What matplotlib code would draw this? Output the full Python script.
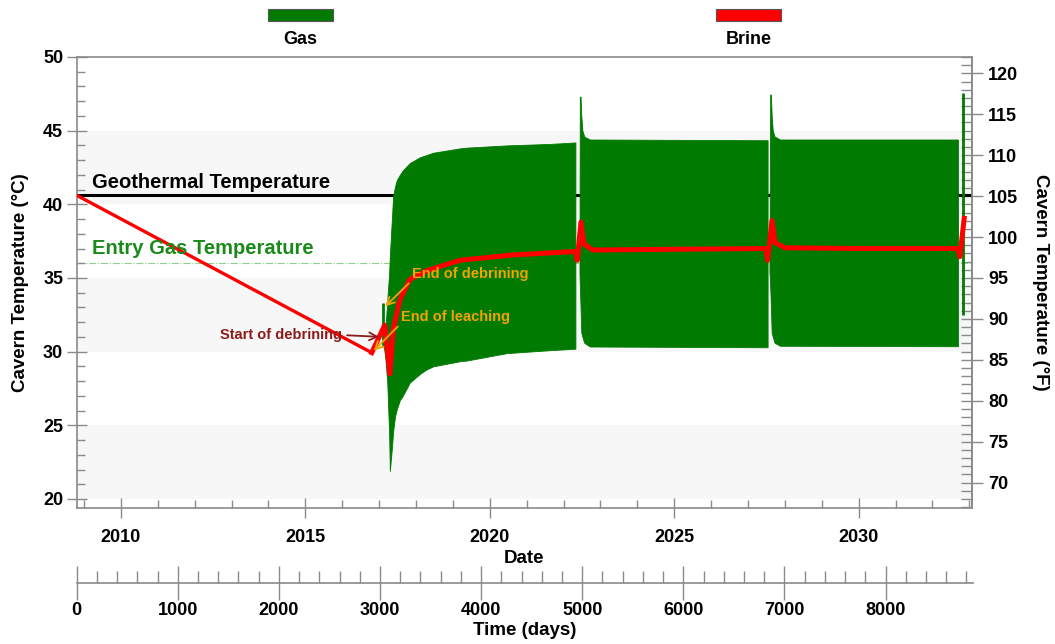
import matplotlib
matplotlib.use('Agg')
import matplotlib.pyplot as plt
from matplotlib.patches import Rectangle
from matplotlib.ticker import MultipleLocator

plt.rcParams['font.family'] = ['Liberation Sans', 'DejaVu Sans']
plt.rcParams['font.weight'] = 'bold'
plt.rcParams['axes.labelweight'] = 'bold'

# --- data (x in decimal years, T in degC) ---
geothermal_temp = 40.6
entry_gas_temp = 36.0

# brine temperature
brine_year = [2008.81, 2016.80, 2017.15, 2017.29, 2017.34, 2017.38, 2017.56, 2017.83,
              2018.29, 2019.19, 2020.54, 2022.32, 2022.37, 2022.47, 2022.55, 2022.80,
              2025.00, 2027.48, 2027.53, 2027.65, 2027.73, 2028.00, 2030.00, 2032.69,
              2032.74, 2032.86]
brine_temp = [40.6, 29.93, 31.8, 28.5, 30.1, 31.5, 33.5, 34.9,
              35.5, 36.2, 36.55, 36.8, 36.2, 38.8, 37.3, 36.9,
              36.95, 37.0, 36.2, 38.9, 37.4, 37.05, 37.0, 37.0,
              36.45, 39.05]

# gas temperature: daily cycling drawn as min/max envelopes per storage period
gas1_year = [2017.13, 2017.17, 2017.22, 2017.27, 2017.29, 2017.34, 2017.38, 2017.43,
             2017.48, 2017.56, 2017.64, 2017.83, 2018.11, 2018.29, 2018.46, 2019.19,
             2019.38, 2020.46, 2021.63, 2022.32]
gas1_max = [30.5, 31.5, 33.5, 35.3, 36.5, 38.8, 40.6, 41.2,
            41.65, 42.0, 42.3, 42.8, 43.2, 43.35, 43.5, 43.8,
            43.85, 44.0, 44.1, 44.2]
gas1_min = [30.3, 29.5, 27.9, 24.5, 21.9, 23.3, 24.6, 25.6,
            26.1, 26.7, 27.0, 27.9, 28.5, 28.8, 29.0, 29.35,
            29.4, 29.9, 30.1, 30.2]

gas2_year = [2022.43, 2022.44, 2022.46, 2022.48, 2022.51, 2022.56, 2022.71, 2027.53]
gas2_max = [35.6, 47.3, 47.3, 46.0, 45.0, 44.6, 44.4, 44.35]
gas2_min = [35.4, 34.5, 33.0, 31.3, 31.0, 30.6, 30.35, 30.3]

gas3_year = [2027.58, 2027.60, 2027.62, 2027.64, 2027.67, 2027.72, 2027.87, 2032.69]
gas3_max = [35.6, 47.45, 47.45, 46.0, 45.0, 44.6, 44.4, 44.4]
gas3_min = [35.4, 34.5, 33.0, 31.3, 31.0, 30.6, 30.4, 30.37]

# short gas spikes
spike_year = [2017.10, 2032.83]
spike_low = [30.3, 32.5]
spike_high = [33.3, 47.55]

# temperature bands shaded in background
bands = [(20, 25), (30, 35), (40, 45)]

legend_names = ['Gas', 'Brine']
legend_colors = ['#007a00', '#ff0000']

gas_color = '#007a00'
brine_color = '#ff0000'
grey = '#8a8a8a'

fig = plt.figure(figsize=(10.55, 6.44), dpi=100)
ax = fig.add_axes([0.0730, 0.2112, 0.8483, 0.7003])
ax.set_xlim(2008.81, 2033.07)
ax.set_ylim(19.39, 50)

for lo, hi in bands:
    ax.axhspan(lo, hi, color='#f7f7f7', lw=0, zorder=0)

ax.axhline(geothermal_temp, color='black', lw=2.2, zorder=1)
ax.axhline(entry_gas_temp, color='#8fd08f', lw=0.8, ls='-.', zorder=1)

for yrs, hi, lo in [(gas1_year, gas1_max, gas1_min),
                    (gas2_year, gas2_max, gas2_min),
                    (gas3_year, gas3_max, gas3_min)]:
    ax.fill_between(yrs, lo, hi, color=gas_color, lw=0.6, zorder=2)
ax.vlines(spike_year, spike_low, spike_high, color=gas_color, lw=2, zorder=2)

# brine: thin during leaching, thicker afterwards
ax.plot(brine_year[:2], brine_temp[:2], color=brine_color, lw=2.4, zorder=3,
        solid_capstyle='round')
ax.plot(brine_year[1:], brine_temp[1:], color=brine_color, lw=3.6, zorder=3,
        solid_joinstyle='round')

ax.text(2009.22, 41.5, 'Geothermal Temperature', color='black', fontsize=14.5,
        va='center', ha='left', zorder=5)
ax.text(2009.22, 36.97, 'Entry Gas Temperature', color='#1a8a1a', fontsize=14.5,
        va='center', ha='left', zorder=5)

dark_red = '#8b1c1c'
orange = '#f2a200'
ax.annotate('Start of debrining', xy=(2017.07, 31.0), xytext=(2015.98, 31.13),
            ha='right', va='center', color=dark_red, fontsize=10.5, zorder=6,
            arrowprops=dict(arrowstyle='->', color=dark_red, lw=1.3, relpos=(1, 0.5),
                            mutation_scale=14))
ax.annotate('End of debrining', xy=(2017.11, 32.94), xytext=(2017.88, 35.3),
            ha='left', va='center', color=orange, fontsize=10.5, zorder=6,
            arrowprops=dict(arrowstyle='->', color=orange, lw=1.3, relpos=(0, 0),
                            mutation_scale=14, shrinkA=0))
ax.annotate('End of leaching', xy=(2016.80, 29.93), xytext=(2017.58, 32.37),
            ha='left', va='center', color=orange, fontsize=10.5, zorder=6,
            arrowprops=dict(arrowstyle='->', color=orange, lw=1.3, relpos=(0, 0),
                            mutation_scale=14, shrinkA=0))

# axes styling
for s in ax.spines.values():
    s.set_color(grey)
    s.set_linewidth(1.2)
ax.xaxis.set_major_locator(MultipleLocator(5))
ax.xaxis.set_minor_locator(MultipleLocator(1))
ax.yaxis.set_major_locator(MultipleLocator(5))
ax.yaxis.set_minor_locator(MultipleLocator(1))
ax.tick_params(which='major', direction='inout', length=14, width=1, color=grey,
               labelsize=13, pad=3)
ax.tick_params(which='minor', direction='in', length=6, width=1, color=grey)
ax.tick_params(axis='x', which='major', pad=8)
ax.set_xlabel('Date', fontsize=13.5, fontweight='bold', labelpad=3)
ax.set_ylabel('Cavern Temperature (°C)', fontsize=13.5, fontweight='bold', labelpad=10)

axf = ax.secondary_yaxis('right', functions=(lambda c: c * 1.8 + 32,
                                             lambda f: (f - 32) / 1.8))
axf.yaxis.set_major_locator(MultipleLocator(5))
axf.yaxis.set_minor_locator(MultipleLocator(1))
axf.tick_params(which='major', direction='inout', length=16, width=1, color=grey,
                labelsize=13)
axf.tick_params(which='minor', direction='in', length=8, width=1, color=grey)
axf.spines['right'].set_color(grey)
axf.spines['right'].set_linewidth(1.2)
axf.set_ylabel('Cavern Temperature (°F)', fontsize=13.5, fontweight='bold',
               rotation=270, labelpad=22)

# time in days axis
axd = fig.add_axes([0.0727, 0.0947, 0.8493, 0.0001])
axd.set_xlim(0, 8862)
axd.set_yticks([])
for k in ['left', 'right', 'top']:
    axd.spines[k].set_visible(False)
axd.spines['bottom'].set_color(grey)
axd.spines['bottom'].set_linewidth(1.2)
axd.xaxis.set_major_locator(MultipleLocator(1000))
axd.xaxis.set_minor_locator(MultipleLocator(200))
axd.tick_params(which='major', direction='inout', length=25, width=1, color=grey,
                labelsize=13, pad=1)
axd.tick_params(which='minor', direction='in', length=9, width=1, color=grey)
axd.set_xlabel('Time (days)', fontsize=13.5, fontweight='bold', labelpad=2)

# legend on top
legend_x = [268, 716]
for name, col, x0 in zip(legend_names, legend_colors, legend_x):
    fig.add_artist(Rectangle((x0 / 1055, 1 - 21 / 644), 65 / 1055, 12 / 644,
                             transform=fig.transFigure, facecolor=col,
                             edgecolor='#555555', lw=0.8))
    fig.text((x0 + 32.5) / 1055, 1 - 40 / 644, name, ha='center', va='center',
             fontsize=13)

fig.savefig('out.png', dpi=100)
